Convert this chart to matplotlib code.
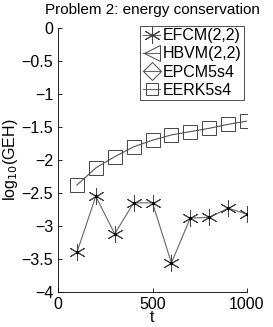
import numpy as np
import matplotlib
matplotlib.use("Agg")
import matplotlib.pyplot as plt

plt.rcParams["font.family"] = ["Liberation Sans", "DejaVu Sans"]

t = [100, 200, 300, 400, 500, 600, 700, 800, 900, 1000]
efcm = [-3.40, -2.55, -3.12, -2.65, -2.65, -3.56, -2.88, -2.87, -2.73, -2.82]
hbvm = []
epcm = []
eerk = [-2.38, -2.12, -1.95, -1.80, -1.70, -1.62, -1.57, -1.52, -1.46, -1.41]

fig = plt.figure(figsize=(2.73, 3.27), dpi=100)
ax = fig.add_axes([58/273, 1-292/327, (247-58)/273, (292-28)/327])

star = (6, 2, 0)
ax.plot(t, efcm, color="#666666", lw=0.8)
ax.plot(t, efcm, ls="none", marker=star, ms=12, mec="#444444", mew=0.7)
ax.plot(t, efcm, ls="none", marker="o", ms=1.5, color="black")
h1, = ax.plot([], [], color="#666666", lw=0.8, marker=star, ms=12, mec="#444444", mew=0.7, label="EFCM(2,2)")
h2, = ax.plot(hbvm, hbvm, color="#666666", lw=0.8, marker="<", ms=12, mfc="none", mec="#444444", mew=0.7, label="HBVM(2,2)")
h3, = ax.plot(epcm, epcm, color="#666666", lw=0.8, marker="D", ms=9, mfc="none", mec="#444444", mew=0.7, label="EPCM5s4")
ax.plot(t, eerk, color="#555555", lw=0.8)
ax.plot(t, eerk, ls="none", marker="s", ms=10.5, mfc="none", mec="#444444", mew=0.7)
h4, = ax.plot([], [], color="#666666", lw=0.8, marker="s", ms=9, mfc="none", mec="#444444", mew=0.7, label="EERK5s4")

ax.set_xlim(0, 1000)
ax.set_ylim(-4, 0)
ax.set_xticks([0, 500, 1000])
ax.set_yticks(np.arange(-4, 0.01, 0.5))
ax.set_yticklabels(["\u22124", "\u22123.5", "\u22123", "\u22122.5", "\u22122", "\u22121.5", "\u22121", "\u22120.5", "0"])
ax.tick_params(direction="in", length=3, labelsize=11.5, width=0.6, colors="black")
for s in ["top", "right"]:
    ax.spines[s].set_visible(False)
for s in ["left", "bottom"]:
    ax.spines[s].set_linewidth(0.6)

ax.set_xlabel("t", fontsize=11.5, labelpad=-1)
ax.set_ylabel("log$_{10}$(GEH)", fontsize=11.5, labelpad=1)
ax.set_title("Problem 2: energy conservation", fontsize=11, pad=10)

leg = ax.legend(handles=[h1, h2, h3, h4], loc="upper right", bbox_to_anchor=(0.984, 1.008),
                fontsize=11.5, frameon=True, fancybox=False, edgecolor="black",
                handlelength=1.1, handletextpad=0.15, borderpad=0.15, labelspacing=0.2,
                borderaxespad=0)
leg.get_frame().set_linewidth(0.6)

fig.savefig("out.png", dpi=100)
